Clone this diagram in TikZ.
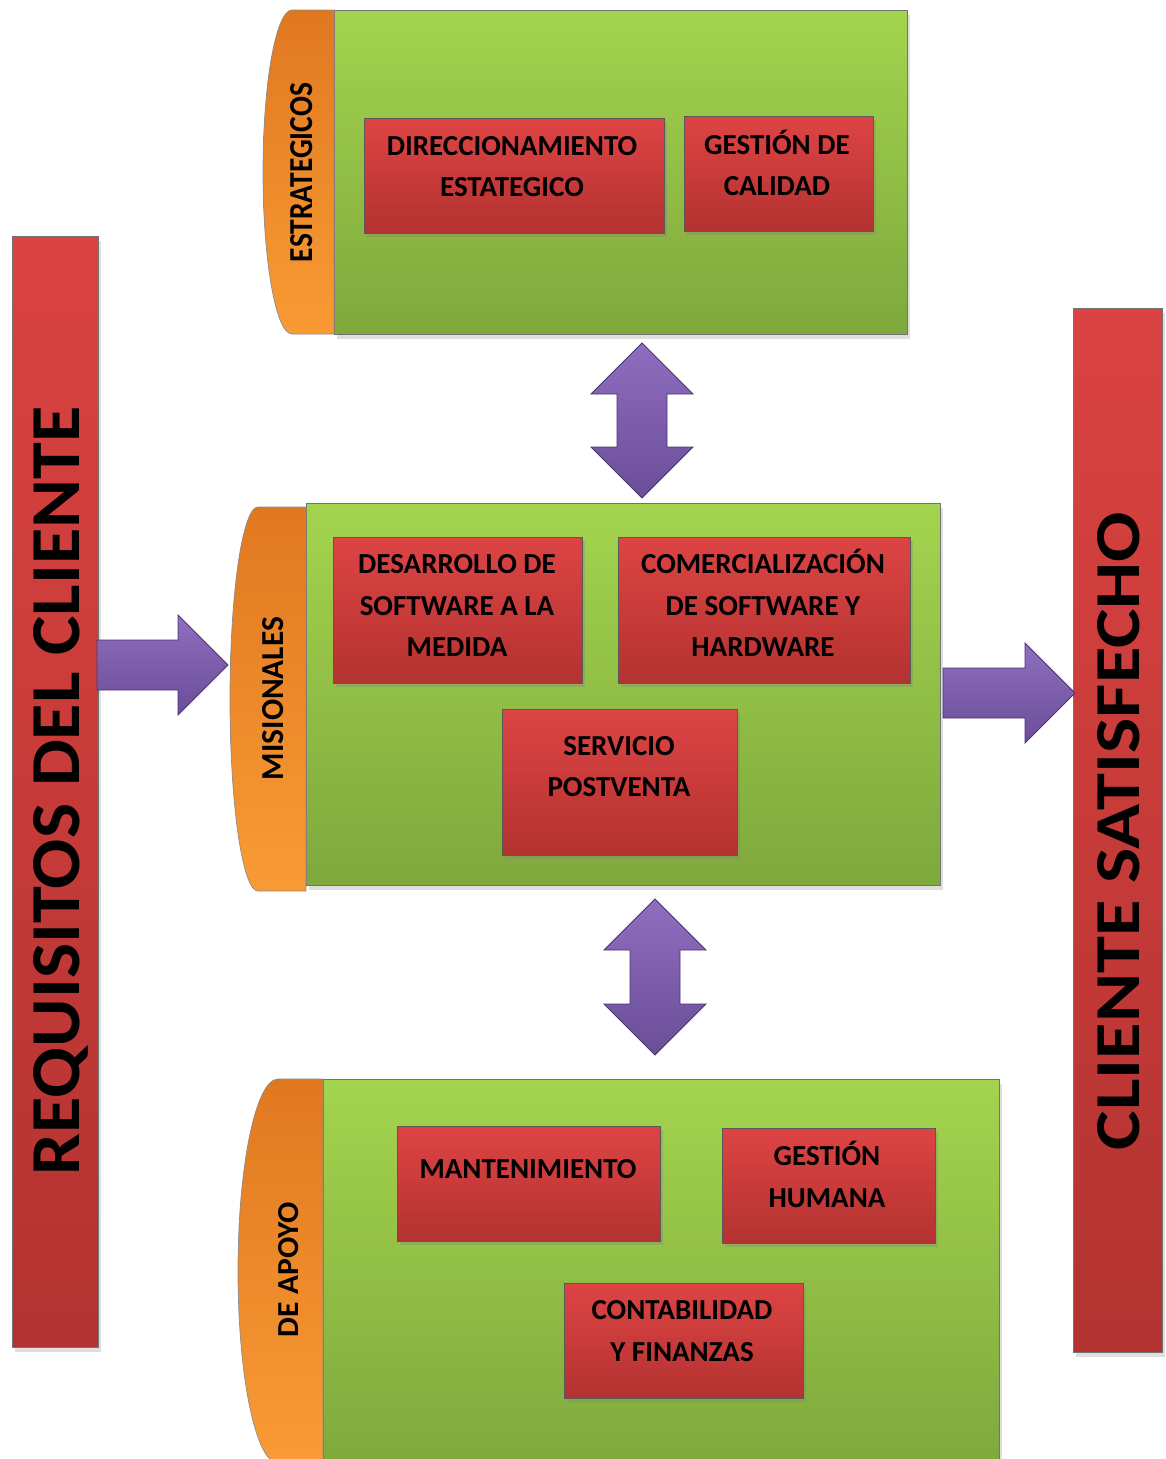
\documentclass[tikz,border=0pt]{standalone}
\usepackage{fontspec}
\setmainfont{Carlito}
\usepackage{graphicx}
\usetikzlibrary{calc,shadows}

\definecolor{grnT}{HTML}{A3D44E}
\definecolor{grnB}{HTML}{7FA83D}
\definecolor{redT}{HTML}{DD4444}
\definecolor{redB}{HTML}{B33230}
\definecolor{barT}{HTML}{DA4341}
\definecolor{barB}{HTML}{B23331}
\definecolor{orgT}{HTML}{E07820}
\definecolor{orgB}{HTML}{F99B35}
\definecolor{purT}{HTML}{8F6EBF}
\definecolor{purB}{HTML}{6B4D98}
\definecolor{purD}{HTML}{4B3670}

\newcommand\proctab[5]{%
  \draw[tabstyle] (#2,#3) -- ({#1+#5},#3)
    .. controls ({#1+0.4477*#5},#3) and (#1,{#3+0.4477*(#4-#3)/2}) .. (#1,{(#3+#4)/2})
    .. controls (#1,{#4-0.4477*(#4-#3)/2}) and ({#1+0.4477*#5},#4) .. ({#1+#5},#4)
    -- (#2,#4) -- cycle;}

\newcommand\harrow[2]{%
  \draw[bigarrow] ($(#1)+(0,-25)$) -- ($(#2)+(-50,-25)$) -- ($(#2)+(-50,-50)$) -- (#2)
    -- ($(#2)+(-50,50)$) -- ($(#2)+(-50,25)$) -- ($(#1)+(0,25)$) -- cycle;}

\newcommand\vdarrow[2]{%
  \draw[bigarrow] (#1) -- ($(#1)+(51,51)$) -- ($(#1)+(25,51)$) -- ($(#2)+(25,-51)$)
    -- ($(#2)+(51,-51)$) -- (#2) -- ($(#2)+(-51,-51)$) -- ($(#2)+(-25,-51)$)
    -- ($(#1)+(-25,51)$) -- ($(#1)+(-51,51)$) -- cycle;}

\begin{document}
\begin{tikzpicture}[x=1pt,y=-1pt,
  panel/.style={draw=black!55, line width=1pt, top color=grnT, bottom color=grnB,
    anchor=north west, inner sep=0pt,
    drop shadow={opacity=0.25, shadow xshift=2pt, shadow yshift=-4pt}},
  redbox/.style={draw=black!65, line width=1pt, top color=redT, bottom color=redB,
    anchor=north west, inner sep=0pt,
    drop shadow={opacity=0.3, shadow xshift=2pt, shadow yshift=-3pt}},
  bar/.style={draw=black!55, line width=1pt, top color=barT, bottom color=barB,
    anchor=north west, inner sep=0pt,
    drop shadow={opacity=0.25, shadow xshift=2pt, shadow yshift=-4pt}},
  tabstyle/.style={draw=black!45, line width=0.7pt, top color=orgT, bottom color=orgB},
  bigarrow/.style={draw=purD, line width=0.8pt, top color=purT, bottom color=purB,
    line join=miter},
  lbl/.style={font=\fontsize{29}{41.5}\selectfont\bfseries, align=center, inner sep=0pt},
  vlbl/.style={rotate=90, anchor=base, inner sep=0pt, font=\bfseries}
]
\useasboundingbox (0,0) rectangle (1165,1459);

% side bars
\node[bar, minimum width=86pt, minimum height=1111pt] (reqbar) at (12,236) {};
\node[bar, minimum width=89pt, minimum height=1044pt] (satbar) at (1073,308) {};
\node[vlbl] (reqtxt) at (79,791) {\resizebox{768pt}{46pt}{REQUISITOS DEL CLIENTE}};
\node[vlbl] (sattxt) at (1139,831) {\resizebox{638pt}{42pt}{CLIENTE SATISFECHO}};

% panels
\node[panel, minimum width=573pt, minimum height=324pt] (p1) at (334,10) {};
\node[panel, minimum width=634pt, minimum height=382pt] (p2) at (306,503) {};
\node[panel, minimum width=676pt, minimum height=390pt] (p3) at (323,1079) {};

% tabs
\proctab{263}{334}{10}{334}{29}
\proctab{230}{306}{507}{891}{28}
\proctab{238}{323}{1079}{1463}{40}
\node[vlbl] (estxt) at (312,172.5) {\resizebox{179pt}{22pt}{ESTRATEGICOS}};
\node[vlbl] (mistxt) at (283,698.5) {\resizebox{163pt}{21pt}{MISIONALES}};
\node[vlbl] (apotxt) at (298,1269.5) {\resizebox{135pt}{20pt}{DE APOYO}};

% process boxes
\node[redbox, minimum width=300pt, minimum height=115pt] (b1) at (364,118) {};
\node[redbox, minimum width=189pt, minimum height=115pt] (b2) at (684,116) {};
\node[redbox, minimum width=249pt, minimum height=146pt] (b3) at (333,537) {};
\node[redbox, minimum width=292pt, minimum height=146pt] (b4) at (618,537) {};
\node[redbox, minimum width=235pt, minimum height=146pt] (b5) at (502,709) {};
\node[redbox, minimum width=263pt, minimum height=115pt] (b6) at (397,1126) {};
\node[redbox, minimum width=213pt, minimum height=115pt] (b7) at (722,1128) {};
\node[redbox, minimum width=239pt, minimum height=115pt] (b8) at (564,1283) {};

\node[lbl] (t1) at (512,166.5) {DIRECCIONAMIENTO\\ESTATEGICO};
\node[lbl] (t2) at (777,162.8) {GESTIÓN DE\\CALIDAD};
\node[lbl] (t3) at (457,605.8) {DESARROLLO DE\\SOFTWARE A LA\\MEDIDA};
\node[lbl] (t4) at (763,603.3) {COMERCIALIZACIÓN\\DE SOFTWARE Y\\HARDWARE};
\node[lbl] (t5) at (619,766.5) {SERVICIO\\POSTVENTA};
\node[lbl] (t6) at (528,1169) {MANTENIMIENTO};
\node[lbl] (t7) at (827,1174.3) {GESTIÓN\\HUMANA};
\node[lbl] (t8) at (682,1331.3) {CONTABILIDAD\\Y FINANZAS};

% arrows
\coordinate (a1t) at (642,343);
\coordinate (a1b) at (642,498);
\coordinate (a2t) at (655,899);
\coordinate (a2b) at (655,1055);
\coordinate (a3s) at (97,665);
\coordinate (a3e) at (228,665);
\coordinate (a4s) at (943,693);
\coordinate (a4e) at (1075,693);
\vdarrow{a1t}{a1b}
\vdarrow{a2t}{a2b}
\harrow{a3s}{a3e}
\harrow{a4s}{a4e}
\end{tikzpicture}
\end{document}
